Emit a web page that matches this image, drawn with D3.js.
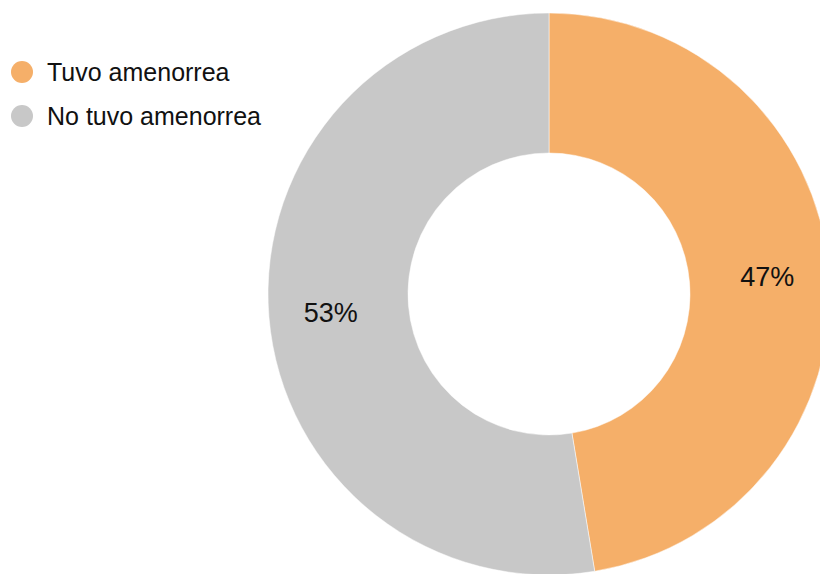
<!DOCTYPE html>
<html>
<head>
<meta charset="utf-8">
<script src="https://cdn.jsdelivr.net/npm/d3@7"></script>
<style>
  body { margin: 0; background: #fff; }
  svg { display: block; font-family: "Liberation Sans", Arial, sans-serif; }
</style>
</head>
<body>
<svg width="820" height="574"></svg>
<script>
var categories = ["Tuvo amenorrea", "No tuvo amenorrea"];
var values = [47.4, 52.6];
var colors = ["#f5af69", "#c8c8c8"];

var svg = d3.select("svg"),
    width = +svg.attr("width"),
    height = +svg.attr("height");

var cx = 549, cy = 294,
    outerR = 281, innerR = 141, labelR = 219;

var data = categories.map(function(c, i) { return { name: c, value: values[i] }; });
var total = d3.sum(values);

var color = d3.scaleOrdinal().domain(categories).range(colors);

var pie = d3.pie()
    .sort(null)
    .value(function(d) { return d.value; });

var arc = d3.arc().innerRadius(innerR).outerRadius(outerR);
var labelArc = d3.arc().innerRadius(labelR).outerRadius(labelR);

var g = svg.append("g").attr("transform", "translate(" + cx + "," + cy + ")");

g.selectAll("path")
  .data(pie(data))
  .enter().append("path")
    .attr("d", arc)
    .attr("fill", function(d) { return color(d.data.name); })
    .attr("stroke", "#fff")
    .attr("stroke-width", 0.5);

g.selectAll("text")
  .data(pie(data))
  .enter().append("text")
    .attr("transform", function(d) { return "translate(" + labelArc.centroid(d) + ")"; })
    .attr("text-anchor", "middle")
    .attr("dy", "0.36em")
    .attr("font-size", 27)
    .attr("fill", "#111")
    .text(function(d) { return Math.round(d.data.value / total * 100) + "%"; });

// legend
var legend = svg.append("g")
  .selectAll("g")
  .data(categories)
  .enter().append("g")
    .attr("transform", function(d, i) { return "translate(22," + (72 + i * 44) + ")"; });

legend.append("circle")
    .attr("r", 11)
    .attr("fill", function(d) { return color(d); });

legend.append("text")
    .attr("x", 25)
    .attr("dy", "0.36em")
    .attr("font-size", 25)
    .attr("fill", "#111")
    .text(function(d) { return d; });
</script>
</body>
</html>
